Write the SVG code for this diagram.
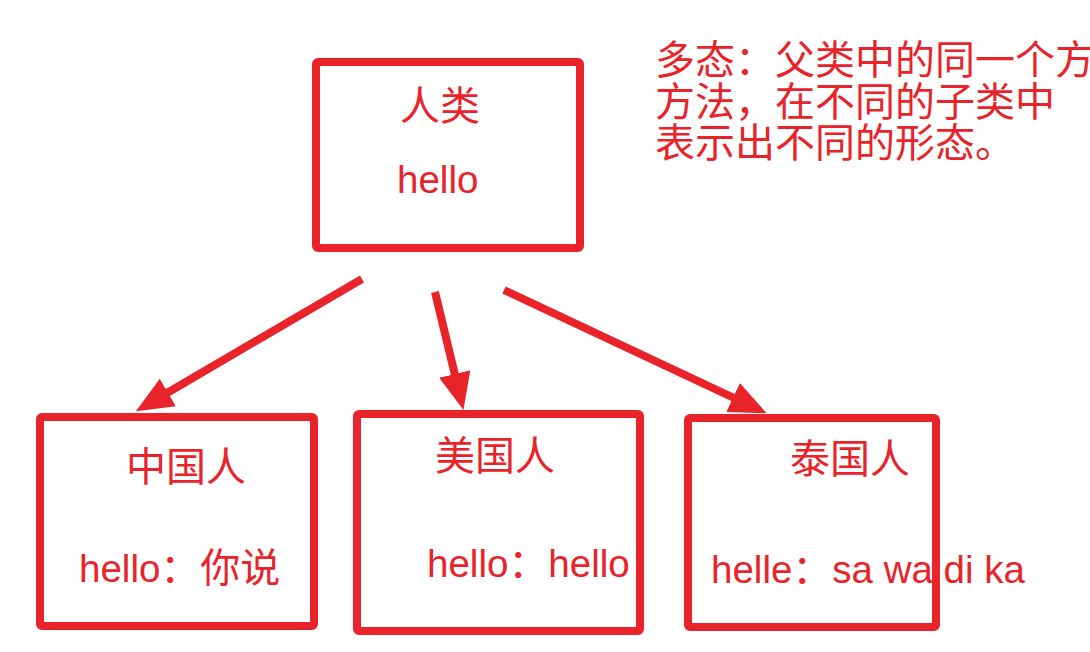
<svg xmlns="http://www.w3.org/2000/svg" width="1090" height="652" viewBox="0 0 1090 652">
<style>
.box{fill:none;stroke:#E8232A;stroke-width:8;}
.t{font-family:"Liberation Sans","Noto Sans CJK SC",sans-serif;fill:#E8232A;}
.lbl{font-size:40px;}
.val{font-size:38.5px;}
.cjk{font-size:40px;}
.note{font-size:40px;}
.conn{stroke:#E8232A;stroke-width:8;fill:none;}
</style>
<defs>
<marker id="ah" markerUnits="userSpaceOnUse" markerWidth="37" markerHeight="32" refX="1" refY="16" orient="auto" viewBox="0 0 37 32">
<path d="M0,0 L37,16 L0,32 z" fill="#E8232A"/>
</marker>
</defs>
<rect width="1090" height="652" fill="#FFFFFF"/>
<g id="note">
<text class="t note" x="655" y="74">多态：父类中的同一个方</text>
<text class="t note" x="655" y="116">方法，在不同的子类中</text>
<text class="t note" x="655" y="157">表示出不同的形态。</text>
</g>
<g id="connectors">
<line class="conn" x1="362" y1="279" x2="167" y2="393" marker-end="url(#ah)"/>
<line class="conn" x1="435" y1="292" x2="455" y2="375" marker-end="url(#ah)"/>
<line class="conn" x1="504" y1="290" x2="734" y2="398" marker-end="url(#ah)"/>
</g>
<g id="human">
<rect class="box" x="316" y="62" width="264" height="186" rx="2"/>
<text class="t lbl" x="400" y="120">人类</text>
<text class="t val" x="397" y="193">hello</text>
</g>
<g id="chinese">
<rect class="box" x="40" y="417" width="274" height="209" rx="2"/>
<text class="t lbl" x="126" y="481">中国人</text>
<text class="t val" x="79" y="582">hello<tspan class="cjk">：你说</tspan></text>
</g>
<g id="american">
<rect class="box" x="357" y="414" width="283" height="217" rx="2"/>
<text class="t lbl" x="435" y="470">美国人</text>
<text class="t val" x="427" y="577">hello<tspan class="cjk">：</tspan>hello</text>
</g>
<g id="thai">
<rect class="box" x="688" y="418" width="248" height="209" rx="2"/>
<text class="t lbl" x="790" y="473">泰国人</text>
<text class="t val" x="711" y="583">helle<tspan class="cjk">：</tspan>sa wa di ka</text>
</g>
</svg>
